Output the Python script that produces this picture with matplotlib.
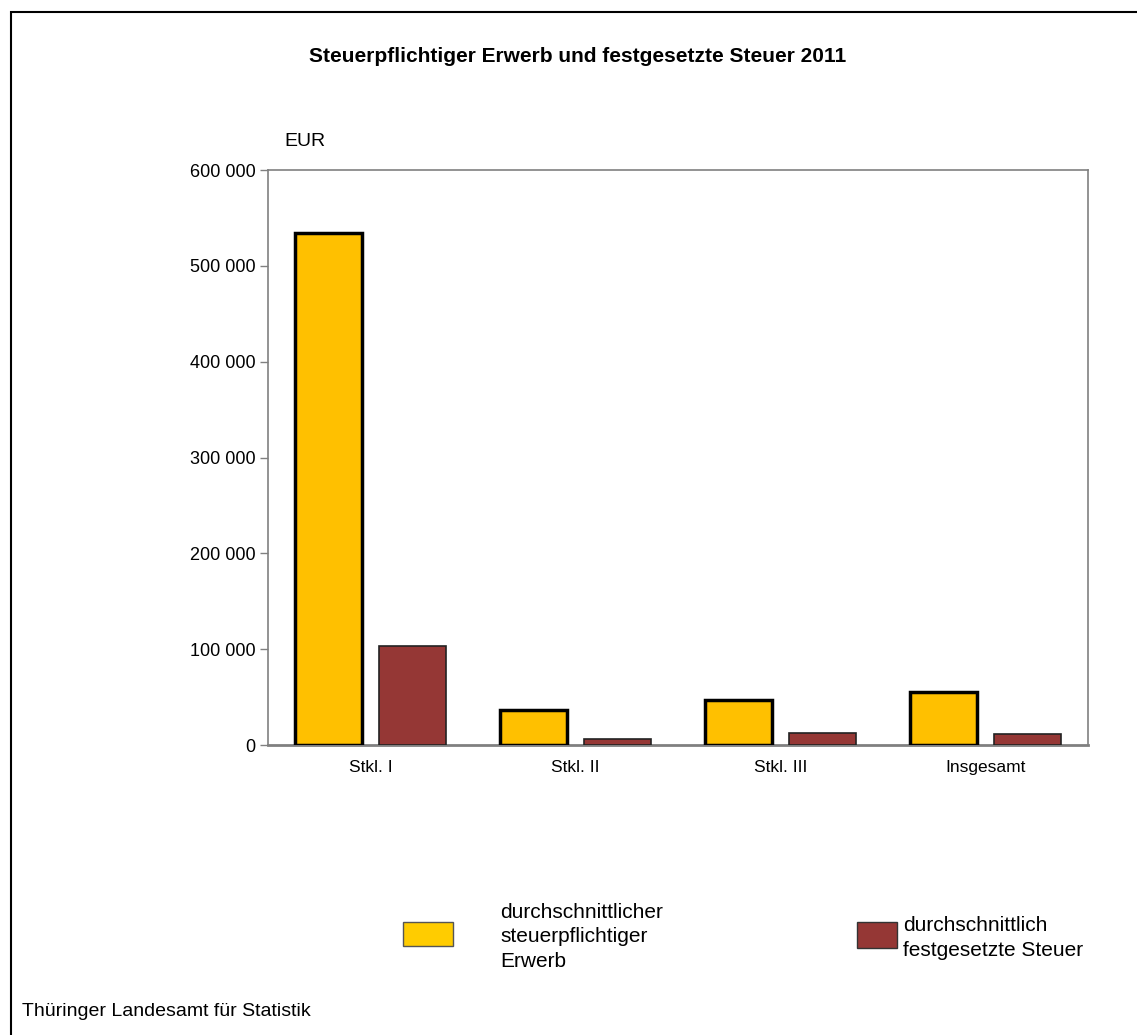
import matplotlib
matplotlib.use("Agg")
import matplotlib.pyplot as plt
import numpy as np
from matplotlib.patches import Rectangle
from matplotlib.ticker import FuncFormatter

categories = ["Stkl. I", "Stkl. II", "Stkl. III", "Insgesamt"]
erwerb = [534000, 36500, 47000, 55000]
steuer = [103500, 6500, 12500, 12000]
series_labels = ["durchschnittlicher\nsteuerpflichtiger\nErwerb", "durchschnittlich\nfestgesetzte Steuer"]
yticks = [0, 100000, 200000, 300000, 400000, 500000, 600000]

plt.rcParams['font.family'] = ['Liberation Sans', 'DejaVu Sans']

W, H = 1137, 1035
fig = plt.figure(figsize=(W/100, H/100), dpi=100)

def fx(px): return px / W
def fy(py): return 1 - py / H

ax = fig.add_axes([fx(268), fy(745), fx(1088) - fx(268), fy(170) - fy(745)])
x = np.arange(len(categories))
bw = 0.325
off = 0.205
ax.bar(x - off, erwerb, bw, color="#FFC000", edgecolor="black", linewidth=2.5, zorder=3)
ax.bar(x + off, steuer, bw, color="#953735", edgecolor="#222222", linewidth=1.2, zorder=3)

ax.set_xlim(-0.5, len(categories) - 0.5)
ax.set_ylim(0, 600000)
ax.set_yticks(yticks)
ax.yaxis.set_major_formatter(FuncFormatter(lambda v, p: f"{int(v):,}".replace(",", " ")))
ax.set_xticks(x)
ax.set_xticklabels(categories, fontsize=12.5)
ax.tick_params(axis='y', direction='out', length=6, width=1, color="#808080", labelsize=13, pad=3)
ax.tick_params(axis='x', length=0, pad=11)
for s in ["left", "top", "right"]:
    ax.spines[s].set_color("#808080")
    ax.spines[s].set_linewidth(1.2)
ax.spines["bottom"].set_color("#808080")
ax.spines["bottom"].set_linewidth(2)

fig.text(fx(578), fy(57), "Steuerpflichtiger Erwerb und festgesetzte Steuer 2011",
         ha="center", va="center", fontsize=15, fontweight="bold")
fig.text(fx(305), fy(141), "EUR", ha="center", va="center", fontsize=14)
fig.text(fx(22), fy(1012), "Thüringer Landesamt für Statistik", ha="left", va="center", fontsize=14)

# legend
fig.patches.append(Rectangle((fx(403), fy(946)), fx(453) - fx(403), fy(922) - fy(946),
                             transform=fig.transFigure, facecolor="#FFCC00", edgecolor="#555555", linewidth=1))
fig.text(fx(500), fy(937), series_labels[0], ha="left", va="center", fontsize=15, linespacing=1.35)
fig.patches.append(Rectangle((fx(857), fy(948)), fx(897) - fx(857), fy(922) - fy(948),
                             transform=fig.transFigure, facecolor="#953735", edgecolor="#333333", linewidth=1))
fig.text(fx(903), fy(938), series_labels[1], ha="left", va="center", fontsize=15, linespacing=1.35)

# outer border (top and left visible)
fig.patches.append(Rectangle((fx(11), fy(1100)), fx(1200) - fx(11), fy(12) - fy(1100),
                             transform=fig.transFigure, facecolor="none", edgecolor="black", linewidth=1.5,
                             clip_on=False))

fig.savefig("out.png", dpi=100)
